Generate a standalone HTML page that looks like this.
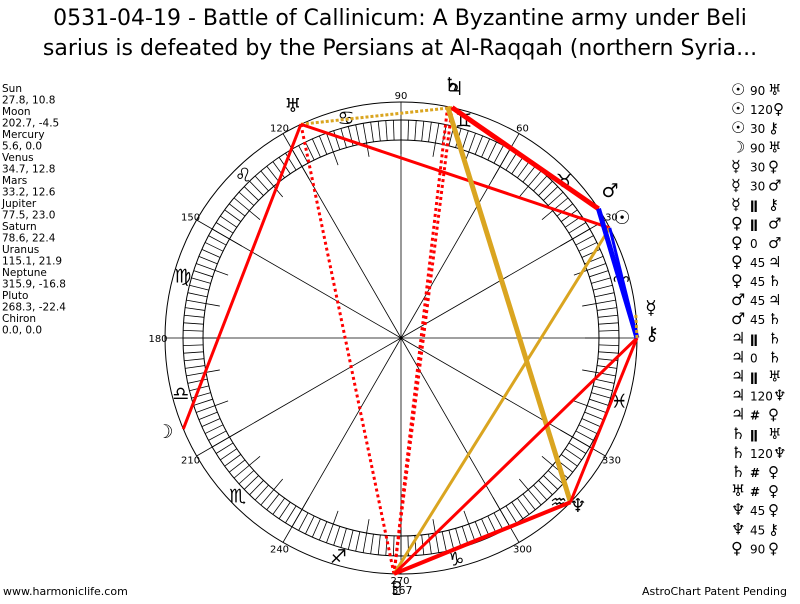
<!DOCTYPE html>
<html><head><meta charset="utf-8"><style>
body{margin:0;background:#fff;width:800px;height:600px;overflow:hidden;font-family:"DejaVu Sans","Liberation Sans",sans-serif}
</style></head><body>
<svg id="s" width="800" height="600" xmlns="http://www.w3.org/2000/svg" font-family="DejaVu Sans, Liberation Sans, sans-serif">
<text x="400" y="25" font-size="22" text-anchor="middle">0531-04-19 - Battle of Callinicum: A Byzantine army under Beli</text>
<text x="400" y="55" font-size="22" text-anchor="middle">sarius is defeated by the Persians at Al-Raqqah (northern Syria...</text>
<g font-size="10.5" id="left"></g>
<g id="chart"></g>
<text x="3" y="595" font-size="11">www.harmoniclife.com</text>
<text x="787" y="595" font-size="11" text-anchor="end">AstroChart Patent Pending</text>
<g id="leg" font-size="12"></g>
</svg>
<script>
var NS="http://www.w3.org/2000/svg";
function el(p,t,a,txt){var e=document.createElementNS(NS,t);for(var k in a)e.setAttribute(k,a[k]);if(txt!=null)e.textContent=txt;p.appendChild(e);return e;}
var L=document.getElementById('left');
var lines=["Sun","27.8, 10.8","Moon","202.7, -4.5","Mercury","5.6, 0.0","Venus","34.7, 12.8","Mars","33.2, 12.6","Jupiter","77.5, 23.0","Saturn","78.6, 22.4","Uranus","115.1, 21.9","Neptune","315.9, -16.8","Pluto","268.3, -22.4","Chiron","0.0, 0.0"];
lines.forEach(function(t,i){el(L,'text',{x:2,y:92+i*11.5},t);});
var C=document.getElementById('chart'),cx=401,cy=338,R=236;
function P(a,r){var t=a*Math.PI/180;return [cx+r*Math.cos(t),cy-r*Math.sin(t)];}
el(C,'circle',{cx:cx,cy:cy,r:R,fill:'none',stroke:'#000','stroke-width':1});
el(C,'circle',{cx:cx,cy:cy,r:218,fill:'none',stroke:'#000','stroke-width':1});
el(C,'circle',{cx:cx,cy:cy,r:198,fill:'none',stroke:'#000','stroke-width':1});
for(var a=0;a<360;a+=2){var r1=(a%10==0)?184:198;var p=P(a,r1),q=P(a,218);el(C,'line',{x1:p[0],y1:p[1],x2:q[0],y2:q[1],stroke:'#000','stroke-width':0.8});}
for(var a=0;a<360;a+=30){var q=P(a,R);el(C,'line',{x1:cx,y1:cy,x2:q[0],y2:q[1],stroke:'#000','stroke-width':0.8});
 if(a%90!=0||a==90||a==180){var lp=P(a,243);el(C,'text',{x:lp[0],y:lp[1]+4,'font-size':10,'text-anchor':'middle'},String(a));}}
el(C,'text',{x:400,y:584,'font-size':10,'text-anchor':'middle'},'270');
var signs="♈♉♊♋♌♍♎♏♐♑♒♓";
for(var i=0;i<12;i++){var p=P(14+30*i,227);el(C,'text',{x:p[0],y:p[1]+7,'font-size':19,'text-anchor':'middle'},signs[i]);}
var pos={su:27.8,mo:202.7,me:5.6,ve:34.7,ma:33.2,ju:77.5,sa:78.6,ur:115.1,ne:315.9,pl:268.3,ch:0};
function pt(k){return P(pos[k],R);}
function ln(a,b,col,w,dash){var p=pt(a),q=pt(b);var at={x1:p[0],y1:p[1],x2:q[0],y2:q[1],stroke:col,'stroke-width':w};if(dash)at['stroke-dasharray']=dash;el(C,'line',at);}
var red='#ff0000',gold='#daa520',blue='#0000ff';
ln('ur','ju',gold,3,'3,2');
ln('ur','mo',red,3);
ln('ur','su',red,3);
ln('ur','pl',red,3,'3,3');
ln('ju','pl',red,3,'3,3');
ln('sa','pl',red,3,'3,3');
ln('ju','ma',red,5);
ln('sa','ne',gold,5);
ln('su','pl',gold,3);
ln('ch','pl',red,3);
ln('ch','ne',red,3);
ln('ne','pl',red,4);
ln('ma','ch',blue,5);
ln('su','ch',blue,3);
ln('me','ch',gold,3,'3,2');
var gl=[['♅',293,112],['♃',455,95],['♄',452,91],['☿',651,314],['⚷',652,340],['♂',610,197],['☉',622,224],['☽',165,438],['♆',578,512],['♇',397,595]];
gl.forEach(function(g){el(C,'text',{x:g[1],y:g[2],'font-size':19,'font-weight':'bold','text-anchor':'middle'},g[0]);});
el(C,'text',{x:402,y:594,'font-size':11,'text-anchor':'middle'},'367');
var G=document.getElementById('leg');
var lg=[['☉','90','♅'],['☉','120','♀'],['☉','30','⚷'],['☽','90','♅'],['☿','30','♀'],['☿','30','♂'],['☿','ǁ','⚷'],['♀','ǁ','♂'],['♀','0','♂'],['♀','45','♃'],['♀','45','♄'],['♂','45','♃'],['♂','45','♄'],['♃','ǁ','♄'],['♃','0','♄'],['♃','ǁ','♅'],['♃','120','♆'],['♃','#','♀'],['♄','ǁ','♅'],['♄','120','♆'],['♄','#','♀'],['♅','#','♀'],['♆','45','♀'],['♆','45','⚷'],['♀','90','♀']];
lg.forEach(function(r,i){var y=95+i*19.1;el(G,'text',{x:731,y:y,'font-size':16,'font-weight':'bold'},r[0]);el(G,'text',{x:750,y:y,'font-size':12,'font-weight':r[1].match(/[ǁ#]/)?'bold':'normal'},r[1]);el(G,'text',{x:r[1].length>2?773:768,y:y,'font-size':15,'font-weight':'bold'},r[2]);});
</script>
</body></html>
